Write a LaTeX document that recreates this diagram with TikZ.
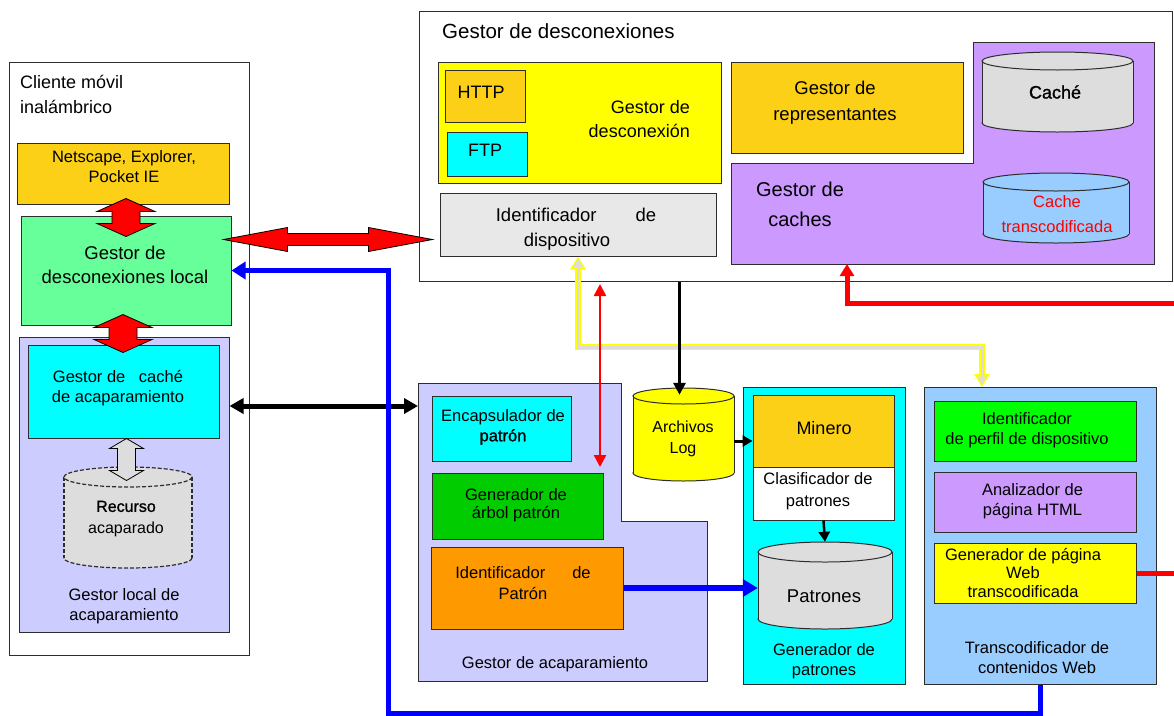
\documentclass[tikz,border=0pt]{standalone}
\usepackage{fontspec}
\setmainfont{Liberation Sans}
\newfontfamily\fbfont[FakeBold=1.2]{Liberation Sans}
\usetikzlibrary{arrows.meta,calc}

\definecolor{gold}{RGB}{252,208,22}
\definecolor{mint}{RGB}{102,255,153}
\definecolor{lav}{RGB}{204,204,255}
\definecolor{purp}{RGB}{204,153,255}
\definecolor{sky}{RGB}{153,204,255}
\definecolor{lgray}{RGB}{232,232,232}
\definecolor{cgray}{RGB}{221,221,221}
\definecolor{dgreen}{RGB}{0,204,0}
\definecolor{bgreen}{RGB}{0,255,0}
\definecolor{orng}{RGB}{255,153,0}
\definecolor{aqua}{RGB}{0,255,255}
\definecolor{lemon}{RGB}{255,255,0}
\definecolor{pred}{RGB}{255,0,0}
\definecolor{pblue}{RGB}{0,0,255}
\definecolor{edge}{RGB}{45,45,45}

\newcommand\fs[2]{\fontsize{#1}{#2}\selectfont}

% rectangle node given by its corners: name, fill, x1, y1, x2, y2
\newcommand\bx[6]{%
  \node[bxs, fill=#2, minimum width={#5-#3}, minimum height={#6-#4}]
    (#1) at ({(#3+#5)/2},{(#4+#6)/2}) {};}

% cylinder: name, fill, line options, x1, y1, x2, y2, end radius
\newcommand\cyl[8]{%
  \pgfmathsetmacro\cylrx{(#6-#4)/2}%
  \pgfmathsetmacro\cylcx{(#6+#4)/2}%
  \node[inner sep=0, minimum width={#6-#4}, minimum height={#7-#5}]
    (#1) at (\cylcx,{(#5+#7)/2}) {};
  \filldraw[fill=#2, draw=edge, line width=1pt, #3] (\cylcx,#7-#8) ellipse[x radius=\cylrx, y radius=#8];
  \fill[#2] (#4,#5+#8) rectangle (#6,#7-#8);
  \draw[draw=edge, line width=1pt, #3] (#4,#5+#8) -- (#4,#7-#8) (#6,#5+#8) -- (#6,#7-#8);
  \filldraw[fill=#2, draw=edge, line width=1pt, #3] (\cylcx,#5+#8) ellipse[x radius=\cylrx, y radius=#8];}

% vertical double block arrow: style, top tip, length, shaft half width, head half width, head length
\newcommand\vdblock[6]{%
  \filldraw[#1] (#2) -- ++(#5,#6) -- ++({#4-#5},0) -- ++(0,{#3-2*#6}) -- ++({#5-#4},0)
    -- ++(-#5,#6) -- ++(-#5,-#6) -- ++({#5-#4},0) -- ++(0,{-(#3-2*#6)}) -- ++({#4-#5},0) -- cycle;}

% horizontal double block arrow: style, left tip, length, shaft half width, head half width, head length
\newcommand\hdblock[6]{%
  \filldraw[#1] (#2) -- ++(#6,-#5) -- ++(0,{#5-#4}) -- ++({#3-2*#6},0) -- ++(0,{#4-#5})
    -- ++(#6,#5) -- ++(-#6,#5) -- ++(0,{#4-#5}) -- ++({-(#3-2*#6)},0) -- ++(0,{#5-#4}) -- cycle;}

\tikzset{
  bxs/.style={draw=edge, line width=1pt, inner sep=0, rectangle},
  txt/.style={inner sep=0, align=center, text=black, font=\fs{16.5}{20}},
  redblk/.style={fill=pred, draw=black, line width=0.8pt},
  grayblk/.style={fill=cgray, draw=black, line width=0.8pt},
  conn/.style={line width=#1, line join=miter},
}

\begin{document}
\begin{tikzpicture}[x=1pt,y=-1pt]
\useasboundingbox (0,0) rectangle (1174,715);
\fill[white] (0,0) rectangle (1174,715);

% ---------------- mobile client ----------------
\bx{cliente}{white}{9}{62}{249}{655}
\node[txt, align=left, anchor=west, font=\fs{18}{25}] (tcliente) at (20,94) {Cliente móvil\\inalámbrico};
\bx{netscape}{gold}{17}{143}{229}{204}
\node[txt] (tnetscape) at (124,166.5) {Netscape, Explorer,\\Pocket IE};
\bx{gdl}{mint}{21}{216}{231}{325}
\node[txt, font=\fs{18.5}{24}] (tgdl) at (125,265) {Gestor de\\desconexiones local};
\bx{glocal}{lav}{19}{337}{229}{632}
\bx{gcache}{aqua}{28}{345}{219}{438}
\node[txt] (tgcache) at (118,388) {Gestor de\hspace{9pt} caché\\de acaparamiento};
\cyl{recurso}{cgray}{dash pattern=on 4pt off 2pt, line width=1.2pt}{64}{467}{192}{568}{10}
\node[txt, font=\fs{16}{22}] (trecurso) at (126,519) {{\fbfont Recurso}\\acaparado};
\node[txt] (tglocal) at (124,606) {Gestor local de\\acaparamiento};

% ---------------- disconnection manager ----------------
\bx{gdesc}{white}{419}{11}{1172}{281}
\node[txt, anchor=west, font=\fs{20.5}{24}] (tgdesc) at (442,31) {Gestor de desconexiones};
\bx{gdcn}{lemon}{438}{62}{721}{183}
\node[txt, align=right, anchor=east, font=\fs{18}{24}] (tgdcn) at (690,119) {Gestor de\\desconexión};
\bx{http}{gold}{445}{70}{525}{122}
\node[txt, font=\fs{18}{22}] (thttp) at (481,92) {HTTP};
\bx{ftp}{aqua}{447}{132}{527}{176}
\node[txt, font=\fs{18}{22}] (tftp) at (485,150) {FTP};
\bx{ident}{lgray}{440}{193}{716}{256}
\node[txt, font=\fs{18.5}{25}] (tident) at (576,229.5) {Identificador\hspace{39pt}de\\dispositivo\rule{18pt}{0pt}};
\bx{grep}{gold}{731}{62}{963}{153}
\node[txt, font=\fs{18.5}{26}] (tgrep) at (835,103) {Gestor de\\representantes};
\filldraw[fill=purp, draw=edge, line width=1pt]
  (731,163) -- (973,163) -- (973,42) -- (1154,42) -- (1154,264) -- (731,264) -- cycle;
\coordinate (gcB) at (847,264);
\node[txt, font=\fs{20}{30}] (tgcaches) at (800,204.5) {Gestor de\\caches};
\cyl{cache}{cgray}{}{982}{52}{1133}{132}{9}
\node[txt, font=\fbfont\fs{18}{22}] (tcache) at (1055,92) {Caché};
\cyl{ctrans}{sky}{}{983}{173}{1129}{243}{9}
\node[txt, text=pred, font=\fs{16.5}{25}] (tctrans) at (1057,214.5) {Cache\\transcodificada};

% ---------------- hoarding manager ----------------
\filldraw[fill=lav, draw=edge, line width=1pt]
  (418,383) -- (621,383) -- (621,521) -- (707,521) -- (707,681) -- (418,681) -- cycle;
\coordinate (gacapW) at (418,406);
\bx{encap}{aqua}{432}{396}{571}{461}
\node[txt] (tencap) at (503,427) {Encapsulador de\\{\fbfont patrón}};
\bx{genarbol}{dgreen}{432}{473}{603}{539}
\node[txt, font=\fs{16.5}{18.5}] (tgenarbol) at (516,505) {Generador de\\árbol patrón};
\bx{identpat}{orng}{431}{547}{623}{629}
\node[txt, font=\fs{16.5}{21}] (tidentpat) at (523,583.5) {Identificador\hspace{27pt}de\\Patrón};
\node[txt] (tgacap) at (555,664) {Gestor de acaparamiento};

% ---------------- logs and pattern generator ----------------
\cyl{log}{lemon}{}{633}{388}{734}{481}{8}
\node[txt, font=\fs{16}{21}] (tlog) at (683,438.5) {Archivos\\Log};
\bx{genpat}{aqua}{743}{387}{905}{684}
\bx{minero}{gold}{753}{395}{894}{467}
\node[txt, font=\fs{18}{22}] (tminero) at (824,428) {Minero};
\bx{clasif}{white}{753}{467}{894}{520}
\node[txt, font=\fs{16.5}{22}] (tclasif) at (818,491) {Clasificador de\\patrones};
\cyl{patrones}{cgray}{}{758}{542}{892}{629}{10}
\node[txt, font=\fs{18.5}{22}] (tpatrones) at (824,596) {Patrones};
\node[txt] (tgenpat) at (824,661) {Generador de\\patrones};

% ---------------- web content transcoder ----------------
\bx{trans}{sky}{924}{387}{1156}{684}
\bx{idperfil}{bgreen}{934}{401}{1136}{461}
\node[txt] (tidperfil) at (1027,430) {Identificador\\de perfil de dispositivo};
\bx{analiz}{purp}{934}{472}{1136}{532}
\node[txt] (tanaliz) at (1032.5,501) {Analizador de\\página HTML};
\bx{genpag}{lemon}{934}{543}{1136}{603}
\node[txt, font=\fs{16.5}{18.5}] (tgenpag) at (1023,572.5) {Generador de página\\Web\\transcodificada};
\node[txt] (ttrans) at (1037,658) {Transcodificador de\\contenidos Web};

% ---------------- connectors ----------------
\coordinate (ytip) at (982,387);
\draw[conn=6pt, lemon, {Triangle[length=13pt,width=15pt]}-{Triangle[length=13pt,width=15pt]}]
  (ident.south) |- ($(ytip)+(0,-40)$) -- (ytip);
\draw[conn=3pt, cgray, shorten <=2.5pt, shorten >=2.5pt, {Triangle[length=8pt,width=9pt]}-{Triangle[length=8pt,width=9pt]}]
  (ident.south) |- ($(ytip)+(0,-40)$) -- (ytip);

\coordinate (rt1) at (600,284);
\coordinate (rt2) at (600,467);
\draw[conn=2.5pt, pred, {Triangle[length=12pt,width=12pt]}-{Triangle[length=12pt,width=12pt]}] (rt1) -- (rt2);

\coordinate (lt) at ($(log.north)+(-4,7)$);
\draw[conn=3.5pt, -{Triangle[length=12pt,width=12pt]}] (gdesc.south -| lt) -- (lt);

\coordinate (mw) at ($(minero.west)+(0,10)$);
\draw[conn=3pt, -{Triangle[length=10pt,width=11pt]}] (log.east |- mw) -- (mw);

\draw[conn=2.5pt, -{Triangle[length=10pt,width=11pt]}] (clasif.south) -- (patrones.north);

\draw[conn=6pt, pblue, -{Triangle[length=15pt,width=17pt]}] (identpat.east) -- (identpat.east -| patrones.west);

\draw[conn=5pt, {Triangle[length=14pt,width=15pt]}-{Triangle[length=14pt,width=15pt]}]
  (glocal.east |- gacapW) -- (gacapW);

\coordinate (bcorner) at (388,713);
\draw[conn=5pt, pblue, -{Triangle[length=14pt,width=17pt]}] (trans.south) |- (bcorner) |- (gdl.east);

\coordinate (redR1) at (1176,303);
\draw[conn=5pt, pred, -{Triangle[length=12pt,width=14pt]}] (redR1) -| (gcB);
\draw[conn=5pt, pred] (genpag.east) -- (genpag.east -| redR1);

% block arrows
\vdblock{redblk}{$(gdl.north)+(0,-17)$}{38}{14}{29}{13}
\vdblock{redblk}{$(gdl.south)+(-3,-11)$}{38}{14}{29}{13}
\hdblock{redblk}{$(gdl.north east)+(-8,24)$}{209}{6}{12}{64}
\vdblock{grayblk}{$(gcache.south)+(3,0)$}{42}{9}{17}{10}
\end{tikzpicture}
\end{document}
